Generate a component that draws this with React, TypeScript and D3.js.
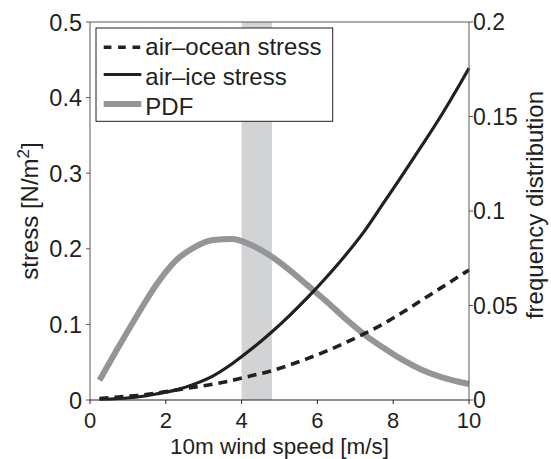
import React from "react";
import * as d3 from "d3";

const windSpeed = [0.25, 0.75, 1.25, 1.75, 2.25, 2.75, 3.25, 3.75, 4.25, 4.75, 5.25, 5.75, 6.25, 6.75, 7.25, 7.75, 8.25, 8.75, 9.25, 9.75, 10];
const airOceanStress = [0.002, 0.004, 0.006, 0.009, 0.013, 0.017, 0.021, 0.026, 0.032, 0.038, 0.046, 0.055, 0.065, 0.076, 0.088, 0.101, 0.116, 0.132, 0.148, 0.164, 0.172];
const airIceStress = [0.001, 0.002, 0.004, 0.008, 0.013, 0.021, 0.032, 0.048, 0.067, 0.088, 0.111, 0.136, 0.163, 0.192, 0.224, 0.261, 0.298, 0.336, 0.375, 0.417, 0.439];
const pdf = [0.0105, 0.028, 0.045, 0.061, 0.0735, 0.0808, 0.0847, 0.0852, 0.082, 0.0765, 0.069, 0.0605, 0.052, 0.0428, 0.0345, 0.0275, 0.0212, 0.016, 0.0122, 0.0095, 0.0085];
const bandRange = [4, 4.8];
const xTicks = [0, 2, 4, 6, 8, 10];
const yLeftTicks = [0, 0.1, 0.2, 0.3, 0.4, 0.5];
const yRightTicks = [0, 0.05, 0.1, 0.15, 0.2];
const yRightLabels = ["0", "0.05", "0.1", "0.15", "0.2"];
const legendLabels = ["air\u2013ocean stress", "air\u2013ice stress", "PDF"];

const FONT = "'Liberation Sans', Arial, Helvetica, sans-serif";

export default function App() {
  const x = d3.scaleLinear().domain([0, 10]).range([90, 469]);
  const yL = d3.scaleLinear().domain([0, 0.5]).range([400, 22]);
  const yR = d3.scaleLinear().domain([0, 0.2]).range([400, 22]);
  const top = 22, bottom = 400, left = 90, right = 469;

  const lineL = (vals: number[]) =>
    d3.line<number>().curve(d3.curveMonotoneX).x((_, i) => x(windSpeed[i])).y((d) => yL(d))(vals) || "";
  const lineR = (vals: number[]) =>
    d3.line<number>().curve(d3.curveMonotoneX).x((_, i) => x(windSpeed[i])).y((d) => yR(d))(vals) || "";

  const axisColor = "#58595b";
  const black = "#231f20";
  const gray = "#939598";

  return (
    <svg width={551} height={459} style={{ position: "absolute", left: 0, top: 0 }} fontFamily={FONT}>
      <rect x={0} y={0} width={551} height={459} fill="#fff" />
      <rect x={x(bandRange[0])} y={top} width={x(bandRange[1]) - x(bandRange[0])} height={bottom - top} fill="#d1d3d4" />

      <path d={lineR(pdf)} fill="none" stroke={gray} strokeWidth={6} />
      <path d={lineL(airOceanStress)} fill="none" stroke={black} strokeWidth={3.6} strokeDasharray="9,6" />
      <path d={lineL(airIceStress)} fill="none" stroke={black} strokeWidth={3.2} />

      {/* frame */}
      <line x1={left} y1={top} x2={right} y2={top} stroke={axisColor} strokeWidth={1} />
      <line x1={left} y1={top} x2={left} y2={bottom} stroke={axisColor} strokeWidth={1} />
      <line x1={right} y1={top} x2={right} y2={bottom} stroke={axisColor} strokeWidth={1} />
      <line x1={left} y1={bottom} x2={right} y2={bottom} stroke={black} strokeWidth={1.2} />

      {xTicks.map((t) => (
        <g key={"x" + t}>
          <line x1={x(t)} x2={x(t)} y1={bottom} y2={bottom + 4} stroke={black} strokeWidth={1} />
          <text x={x(t)} y={427.5} textAnchor="middle" fontSize={22} fill={black}>{t}</text>
        </g>
      ))}
      {yLeftTicks.map((t) => (
        <g key={"yl" + t}>
          <line x1={left - 4} x2={left} y1={yL(t)} y2={yL(t)} stroke={axisColor} strokeWidth={1} />
          <text x={82} y={yL(t) + 8.5} textAnchor="end" fontSize={23.5} fill={black}>{d3.format("~g")(t)}</text>
        </g>
      ))}
      {yRightTicks.map((t, i) => (
        <g key={"yr" + t}>
          <line x1={right} x2={right + 4} y1={yR(t)} y2={yR(t)} stroke={axisColor} strokeWidth={1} />
          <text x={473} y={yR(t) + 8} textAnchor="start" fontSize={23} fill={black}>{yRightLabels[i]}</text>
        </g>
      ))}

      <text x={279.5} y={453.5} textAnchor="middle" fontSize={22.5} fill={black}>10m wind speed [m/s]</text>
      <text transform="translate(37.5,211) rotate(-90)" textAnchor="middle" fontSize={24} fill={black}>
        stress [N/m<tspan dy={-9} fontSize={17}>2</tspan><tspan dy={9}>]</tspan>
      </text>
      <text transform="translate(543,205) rotate(-90)" textAnchor="middle" fontSize={24} fill={black}>frequency distribution</text>

      {/* legend */}
      <rect x={96} y={28} width={236.7} height={93.3} fill="#fff" stroke={black} strokeWidth={1} />
      <line x1={103.7} x2={141.3} y1={47.3} y2={47.3} stroke={black} strokeWidth={3.6} strokeDasharray="7.7,6.7" />
      <line x1={103.7} x2={141.3} y1={74.5} y2={74.5} stroke={black} strokeWidth={3.2} />
      <line x1={103.7} x2={141.3} y1={104} y2={104} stroke={gray} strokeWidth={6} />
      {legendLabels.map((l, i) => (
        <text key={l} x={145.3} y={54.5 + i * 30.2} fontSize={24} fill={black}>{l}</text>
      ))}
    </svg>
  );
}
